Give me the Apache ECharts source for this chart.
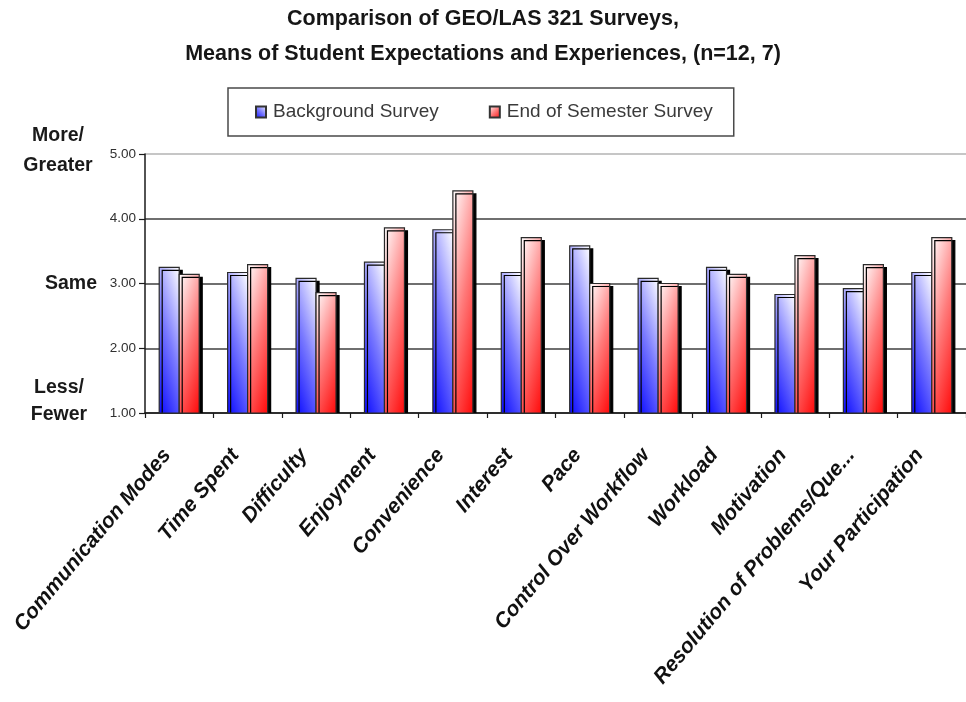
<!DOCTYPE html>
<html>
<head>
<meta charset="utf-8">
<title>GEO/LAS 321 Surveys</title>
<script src="https://cdn.jsdelivr.net/npm/echarts@6/dist/echarts.min.js"></script>
<style>
  html, body { margin: 0; padding: 0; background: #ffffff; }
  #chart { width: 966px; height: 702px; }
</style>
</head>
<body>
<div id="chart"></div>
<script>
// Survey topics along the category axis
const categories = [
  'Communication Modes', 'Time Spent', 'Difficulty', 'Enjoyment', 'Convenience',
  'Interest', 'Pace', 'Control Over Workflow', 'Workload', 'Motivation',
  'Resolution of Problems/Que...', 'Your Participation'
];

// Mean ratings (1 = less/fewer, 3 = same, 5 = more/greater)
const backgroundMeans = [3.25, 3.17, 3.08, 3.33, 3.83, 3.17, 3.58, 3.08, 3.25, 2.83, 2.92, 3.17];
const semesterMeans   = [3.14, 3.29, 2.86, 3.86, 4.43, 3.71, 3.00, 3.00, 3.14, 3.43, 3.29, 3.71];

// Value axis ticks and the verbal anchors beside them
const yTicks = [1, 2, 3, 4, 5];
const scaleWords = [
  { value: 5, text: 'More/\nGreater' },
  { value: 3, text: 'Same' },
  { value: 1, text: 'Less/\nFewer' }
];

const seriesNames = ['Background Survey', 'End of Semester Survey'];

const FONT = 'Liberation Sans, Arial, sans-serif';
const Y_MIN = yTicks[0];
const Y_MAX = yTicks[yTicks.length - 1];
const BAR_RATIO = 0.29;

const blueStops = [
  { offset: 0, color: '#0a0aff' },
  { offset: 0.5, color: '#7a7aff' },
  { offset: 1, color: '#ffffff' }
];
const redStops = [
  { offset: 0, color: '#ff0a0a' },
  { offset: 0.5, color: '#ff7a7a' },
  { offset: 1, color: '#ffffff' }
];

// Each bar gets a diagonal fade: deep colour at one bottom corner, white at the opposite top corner.
function makeRenderer(side, stops) {
  return function (params, api) {
    const i = api.value(0);
    const v = api.value(1);
    const top = api.coord([i, v]);
    const base = api.coord([i, Y_MIN]);
    const band = api.size([1, 0])[0];
    const w = Math.round(band * BAR_RATIO);
    const x = side < 0 ? top[0] - w : top[0];
    const y = top[1];
    const h = base[1] - top[1];
    const a = 0.32, b = 0.68;
    const s = 1 / (a * a / (w * w) + b * b / (h * h));
    const dx = s * a / w;
    const dy = -s * b / h;
    const x0 = side < 0 ? x : x + w;
    const dirX = side < 0 ? dx : -dx;
    const fill = new echarts.graphic.LinearGradient(
      x0, base[1], x0 + dirX, base[1] + dy, stops, true
    );
    return {
      type: 'rect',
      shape: { x: x, y: y, width: w, height: h },
      style: {
        fill: fill,
        stroke: '#2a2a2a',
        lineWidth: 1.2,
        shadowColor: '#000000',
        shadowOffsetX: 3,
        shadowOffsetY: 3,
        shadowBlur: 0
      }
    };
  };
}

const chart = echarts.init(document.getElementById('chart'), null, { renderer: 'canvas' });

const option = {
  backgroundColor: '#ffffff',
  animation: false,
  title: {
    text: 'Comparison of GEO/LAS 321 Surveys,\nMeans of Student Expectations and Experiences, (n=12, 7)',
    left: 'center',
    top: 2,
    padding: 0,
    textStyle: {
      fontFamily: FONT,
      fontWeight: 'bold',
      fontSize: 21.5,
      lineHeight: 35,
      color: '#161616'
    }
  },
  legend: {
    data: seriesNames,
    left: 228,
    top: 88,
    orient: 'horizontal',
    padding: [13, 21, 13, 27],
    itemGap: 50,
    itemWidth: 10,
    itemHeight: 11,
    icon: 'rect',
    borderColor: '#4a4a4a',
    borderWidth: 1.5,
    textStyle: {
      fontFamily: FONT,
      fontSize: 19,
      lineHeight: 22,
      color: '#3a3a3a',
      padding: [0, 0, 0, 2]
    }
  },
  grid: {
    left: 145,
    top: 154,
    width: 830,
    bottom: 289,
    containLabel: false
  },
  xAxis: {
    type: 'category',
    data: categories,
    boundaryGap: true,
    axisLine: { lineStyle: { color: '#1a1a1a', width: 1.5 } },
    axisTick: { show: true, length: 5, lineStyle: { color: '#1a1a1a', width: 1.2 } },
    axisLabel: {
      interval: 0,
      rotate: 50,
      margin: 24,
      padding: [0, 19, 0, 0],
      fontFamily: FONT,
      fontStyle: 'italic',
      fontWeight: 'bold',
      fontSize: 21,
      color: '#111111'
    },
    splitLine: { show: false }
  },
  yAxis: {
    type: 'value',
    min: Y_MIN,
    max: Y_MAX,
    interval: 1,
    axisLine: { show: true, lineStyle: { color: '#1a1a1a', width: 1.5 } },
    axisTick: { show: true, inside: false, length: 6, lineStyle: { color: '#1a1a1a', width: 1.2 } },
    axisLabel: {
      margin: 9,
      fontFamily: FONT,
      fontSize: 13.5,
      color: '#303030',
      formatter: function (v) { return v.toFixed(2); }
    },
    splitLine: {
      show: true,
      lineStyle: {
        color: ['#6f6f6f', '#6f6f6f', '#6f6f6f', '#6f6f6f', '#c6c6c6'],
        width: 2
      }
    }
  },
  series: [
    {
      name: seriesNames[0],
      type: 'custom',
      clip: true,
      renderItem: makeRenderer(-1, blueStops),
      itemStyle: {
        color: new echarts.graphic.LinearGradient(0, 1, 1, 0, blueStops),
        borderColor: '#333333',
        borderWidth: 1
      },
      encode: { x: 0, y: 1 },
      data: backgroundMeans.map(function (v, i) { return [i, v]; })
    },
    {
      name: seriesNames[1],
      type: 'custom',
      clip: true,
      renderItem: makeRenderer(1, redStops),
      itemStyle: {
        color: new echarts.graphic.LinearGradient(1, 1, 0, 0, redStops),
        borderColor: '#333333',
        borderWidth: 1
      },
      encode: { x: 0, y: 1 },
      data: semesterMeans.map(function (v, i) { return [i, v]; })
    }
  ]
};

chart.setOption(option);

// Verbal anchors placed beside their values on the rating scale
const wordLayout = {
  5: { x: 58, dy: -3, align: 'center', lineHeight: 30 },
  3: { x: 97, dy: 0, align: 'right', lineHeight: 24 },
  1: { x: 59, dy: -12, align: 'center', lineHeight: 27 }
};
chart.setOption({
  graphic: scaleWords.map(function (w) {
    const py = chart.convertToPixel({ yAxisIndex: 0 }, w.value);
    const L = wordLayout[w.value];
    return {
      type: 'text',
      x: L.x,
      y: py + L.dy,
      style: {
        text: w.text,
        textAlign: L.align,
        textVerticalAlign: 'middle',
        fontFamily: FONT,
        fontWeight: 'bold',
        fontSize: 19.5,
        lineHeight: L.lineHeight,
        fill: '#1a1a1a'
      }
    };
  })
});
</script>
</body>
</html>
